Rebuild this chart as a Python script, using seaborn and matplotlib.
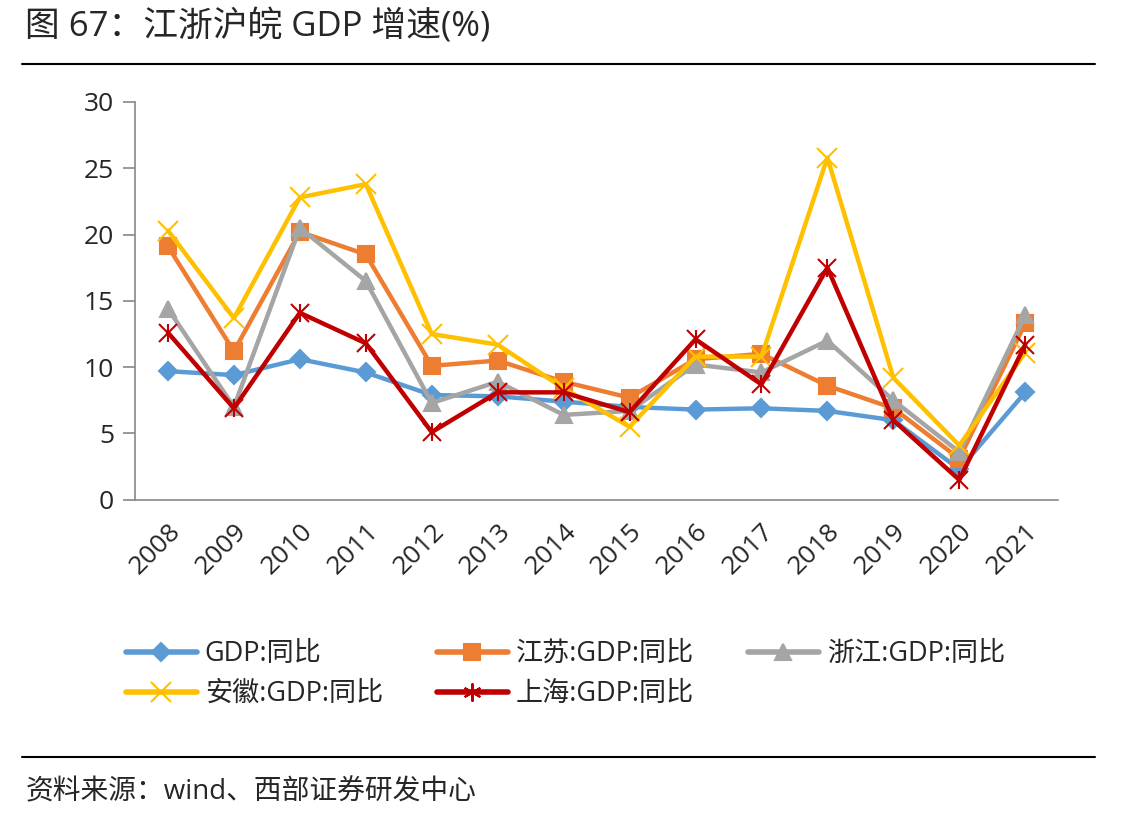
import matplotlib
matplotlib.use("Agg")
import matplotlib.pyplot as plt
import pandas as pd
import seaborn as sns
from matplotlib.lines import Line2D

years = [str(y) for y in range(2008, 2022)]
gdp_china = [9.7, 9.4, 10.6, 9.6, 7.9, 7.8, 7.4, 7.0, 6.8, 6.9, 6.7, 6.0, 2.3, 8.1]
gdp_jiangsu = [19.1, 11.2, 20.2, 18.5, 10.1, 10.5, 8.9, 7.7, 10.6, 11.0, 8.6, 6.9, 3.1, 13.3]
gdp_zhejiang = [14.4, 7.0, 20.5, 16.5, 7.3, 8.9, 6.4, 6.7, 10.2, 9.6, 12.0, 7.5, 3.6, 13.9]
gdp_anhui = [20.3, 13.7, 22.8, 23.8, 12.5, 11.7, 8.4, 5.5, 10.8, 10.8, 25.8, 9.2, 4.1, 11.1]
gdp_shanghai = [12.6, 6.9, 14.1, 11.8, 5.1, 8.1, 8.1, 6.6, 12.1, 8.7, 17.5, 6.0, 1.5, 11.7]

series_names = ["GDP:同比", "江苏:GDP:同比", "浙江:GDP:同比", "安徽:GDP:同比", "上海:GDP:同比"]
series_values = [gdp_china, gdp_jiangsu, gdp_zhejiang, gdp_anhui, gdp_shanghai]
colors = ["#5B9BD5", "#ED7D31", "#A5A5A5", "#FFC000", "#C00000"]
markers = ["D", "s", "^", "x", "x"]
marker_sizes = [9, 12, 12, 14, 13]

sns.set_style("white")
plt.rcParams["font.family"] = ["Open Sans", "Noto Sans CJK SC", "DejaVu Sans"]

fig = plt.figure(figsize=(11.44, 8.22), dpi=100)
ax = fig.add_axes([0.118, 0.392, 0.807, 0.484])

pos = list(range(len(years)))
for name, vals, c, m, ms in zip(series_names, series_values, colors, markers, marker_sizes):
    df = pd.DataFrame({"x": pos, "y": vals})
    sns.lineplot(data=df, x="x", y="y", ax=ax, color=c, linewidth=3.2,
                 marker=m, markersize=ms, markeredgecolor=c,
                 markeredgewidth=1.5, label=None)
    if name == "上海:GDP:同比":
        # asterisk: add a vertical bar on top of the x
        ax.plot(pos, vals, linestyle="none", marker="|", markersize=ms,
                color=c, markeredgewidth=1.5)

ax.set_xlim(-0.5, len(years) - 0.5)
ax.set_ylim(0, 30)
ax.set_yticks(range(0, 31, 5))
ax.set_xticks(pos)
ax.set_xticklabels(years, rotation=45, ha="right", rotation_mode="anchor")
ax.set_xticks([p - 0.5 for p in pos] + [len(years) - 0.5], minor=True)
ax.tick_params(axis="x", which="major", length=0, labelsize=19, pad=14)
ax.tick_params(axis="x", which="minor", length=9, width=1.2, color="#888888", direction="out")
ax.tick_params(axis="y", length=9, width=1.2, color="#888888", direction="out", labelsize=19, pad=6)
ax.tick_params(left=True, bottom=True)
for s in ["top", "right"]:
    ax.spines[s].set_visible(False)
for s in ["left", "bottom"]:
    ax.spines[s].set_color("#888888")
    ax.spines[s].set_linewidth(1.2)
ax.set_xlabel("")
ax.set_ylabel("")
if ax.get_legend():
    ax.get_legend().remove()

handles = {}
for name, c, m, ms in zip(series_names, colors, markers, marker_sizes):
    mk = (6, 2, 0) if name == "上海:GDP:同比" else m
    handles[name] = Line2D([], [], color=c, linewidth=4, marker=mk, markersize=ms,
                           markeredgecolor=c, markeredgewidth=1.5)
# legend fills column-wise; order so rows read left to right
order = ["GDP:同比", "安徽:GDP:同比", "江苏:GDP:同比", "上海:GDP:同比", "浙江:GDP:同比"]
fig.legend([handles[n] for n in order], order, loc="upper left",
           bbox_to_anchor=(0.089, 0.251), ncol=3, frameon=False, fontsize=19.5,
           handlelength=2.6, columnspacing=2.0, handletextpad=0.3, labelspacing=0.45)

fig.text(0.022, 0.967, "图 67：江浙沪皖 GDP 增速(%)", fontsize=25, va="center", ha="left")
fig.add_artist(Line2D([0.019, 0.957], [0.922, 0.922], color="black", linewidth=1.5))
fig.add_artist(Line2D([0.019, 0.957], [0.079, 0.079], color="black", linewidth=1.5))
fig.text(0.022, 0.036, "资料来源：wind、西部证券研发中心", fontsize=20, va="center", ha="left")

fig.savefig("out.png", dpi=100)
